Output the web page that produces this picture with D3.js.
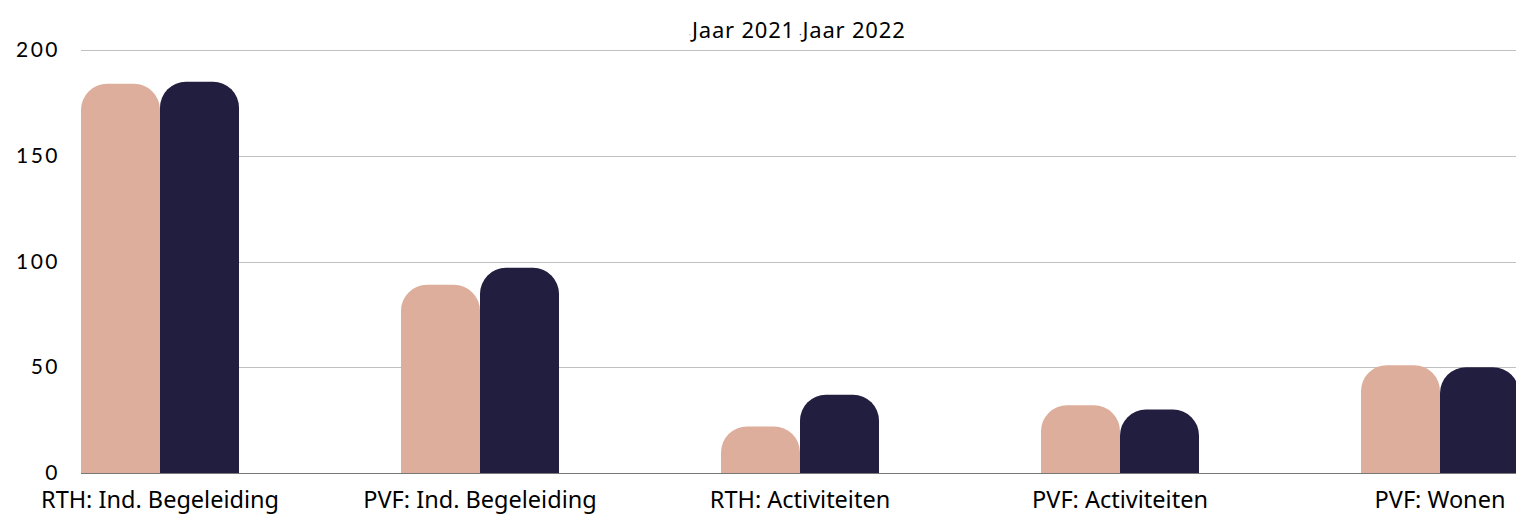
<!DOCTYPE html>
<html>
<head>
<meta charset="utf-8">
<script src="https://cdn.jsdelivr.net/npm/d3@7"></script>
<style>
  body { margin: 0; background: #fff; }
  svg { display: block; font-family: "Noto Sans", Lato, sans-serif; }
</style>
</head>
<body>
<div id="chart"></div>
<script>
// data
var categories = ["RTH: Ind. Begeleiding", "PVF: Ind. Begeleiding", "RTH: Activiteiten", "PVF: Activiteiten", "PVF: Wonen"]
var series = ["Jaar 2021", "Jaar 2022"]
var jaar2021 = [184, 89, 22, 32, 51]
var jaar2022 = [185, 97, 37, 30, 50]
var yTicks = [0, 50, 100, 150, 200]
var colors = ["#ddae9b", "#221e40"]

var svgWidth = 1516
var svgHeight = 518

var svg = d3.select("#chart")
  .append("svg")
  .attr("width", svgWidth)
  .attr("height", svgHeight)

var plotLeft = 81
var plotRight = 1516
var yTop = 50
var yBottom = 473

// scales
var x0 = d3.scaleBand()
  .domain(categories)
  .range([0, 1600])
  .paddingInner(0.50625)
  .paddingOuter(0.253125)

var x1 = d3.scaleBand()
  .domain(series)
  .range([0, x0.bandwidth()])

var y = d3.scaleLinear()
  .domain([0, 200])
  .range([yBottom, yTop])

// gridlines
svg.append("g")
  .selectAll("line")
  .data(yTicks.filter(d => d > 0))
  .enter()
  .append("line")
  .attr("x1", plotLeft)
  .attr("x2", plotRight)
  .attr("y1", d => Math.round(y(d)) + 0.5)
  .attr("y2", d => Math.round(y(d)) + 0.5)
  .attr("stroke", "#c0c0c0")
  .attr("stroke-width", 1)

// y tick labels
svg.append("g")
  .selectAll("text")
  .data(yTicks)
  .enter()
  .append("text")
  .attr("x", 60)
  .attr("y", d => y(d))
  .attr("dy", "0.34em")
  .attr("text-anchor", "end")
  .attr("font-family", "Lato, sans-serif")
  .attr("font-size", 21)
  .attr("letter-spacing", 2.5)
  .attr("fill", "#000")
  .text(d => d)

// rounded-top bar path
function barPath(x, yv, w, h, r) {
  r = Math.min(r, w / 2, h)
  return "M" + x + "," + (yv + h) +
    "V" + (yv + r) +
    "A" + r + "," + r + " 0 0 1 " + (x + r) + "," + yv +
    "H" + (x + w - r) +
    "A" + r + "," + r + " 0 0 1 " + (x + w) + "," + (yv + r) +
    "V" + (yv + h) + "Z"
}

var rows = categories.map((c, i) => ({ cat: c, values: [jaar2021[i], jaar2022[i]] }))

var groups = svg.append("g")
  .selectAll("g")
  .data(rows)
  .enter()
  .append("g")
  .attr("transform", d => `translate(${x0(d.cat)},0)`)

groups.selectAll("path")
  .data(d => d.values.map((v, j) => ({ key: series[j], value: v, j: j })))
  .enter()
  .append("path")
  .attr("d", d => barPath(x1(d.key), y(d.value), x1.bandwidth(), yBottom - y(d.value), 26))
  .attr("fill", d => colors[d.j])

// baseline
svg.append("line")
  .attr("x1", plotLeft)
  .attr("x2", plotRight)
  .attr("y1", yBottom + 0.5)
  .attr("y2", yBottom + 0.5)
  .attr("stroke", "#777")
  .attr("stroke-width", 1)

// x labels
svg.append("g")
  .selectAll("text")
  .data(categories)
  .enter()
  .append("text")
  .attr("x", d => x0(d) + x0.bandwidth() / 2)
  .attr("y", 508)
  .attr("text-anchor", "middle")
  .attr("font-size", 23.5)
  .attr("fill", "#000")
  .text(d => d)

// legend
var legend = svg.append("text")
  .attr("x", 797)
  .attr("y", 38)
  .attr("text-anchor", "middle")
  .attr("font-size", 22)
  .attr("letter-spacing", 0.8)
  .attr("fill", "#000")

series.forEach(function(s, i) {
  legend.append("tspan")
    .attr("fill", colors[i])
    .attr("font-size", 10)
    .attr("dx", i === 0 ? 0 : 4)
    .text("·")
  legend.append("tspan")
    .attr("fill", "#000")
    .text(s)
})
</script>
</body>
</html>
